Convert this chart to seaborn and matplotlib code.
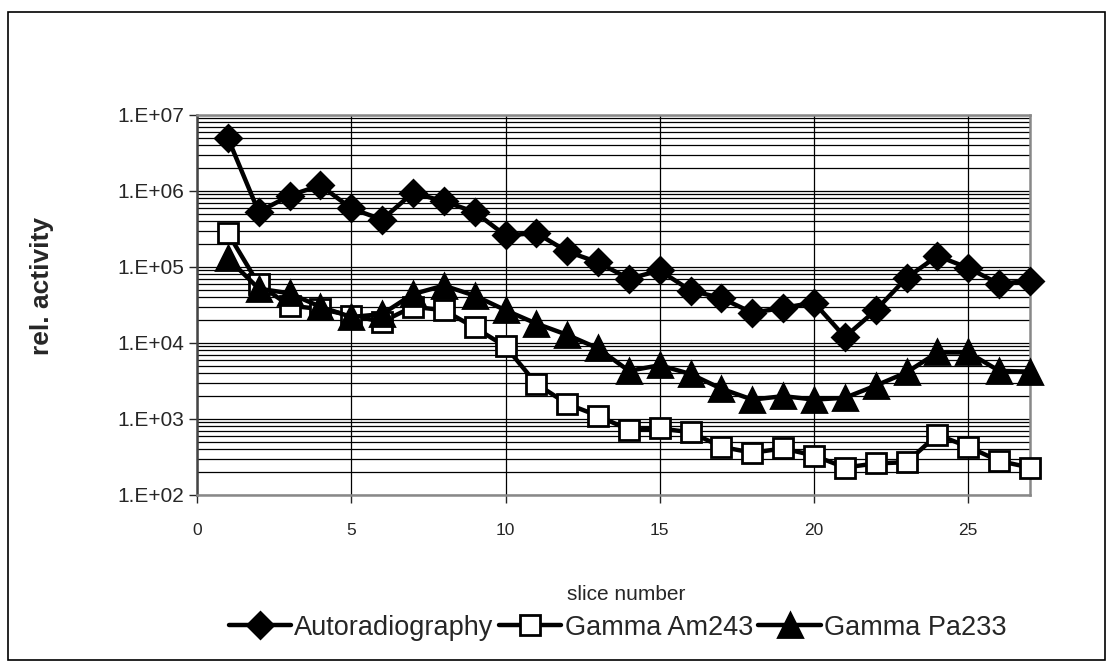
import numpy as np
import pandas as pd
import matplotlib
matplotlib.use("Agg")
import matplotlib.pyplot as plt
from matplotlib.ticker import FixedLocator, FuncFormatter, NullFormatter
import seaborn as sns

slices = list(range(1, 28))
autoradiography = [5.0e6, 5.3e5, 8.7e5, 1.19e6, 5.9e5, 4.2e5, 9.5e5, 7.3e5, 5.3e5,
                   2.6e5, 2.8e5, 1.6e5, 1.15e5, 7.0e4, 9.0e4, 4.9e4, 3.9e4, 2.5e4,
                   2.9e4, 3.4e4, 1.2e4, 2.7e4, 7.2e4, 1.4e5, 9.7e4, 6.0e4, 6.6e4]
gamma_am243 = [2.8e5, 5.9e4, 3.1e4, 2.8e4, 2.3e4, 1.9e4, 3.0e4, 2.7e4, 1.6e4,
               9.0e3, 2.9e3, 1.58e3, 1.1e3, 7.2e2, 7.5e2, 6.7e2, 4.3e2, 3.6e2,
               4.1e2, 3.3e2, 2.3e2, 2.6e2, 2.7e2, 6.2e2, 4.3e2, 2.8e2, 2.3e2]
gamma_pa233 = [1.3e5, 5.2e4, 4.5e4, 3.0e4, 2.2e4, 2.4e4, 4.4e4, 5.7e4, 4.2e4,
               2.7e4, 1.8e4, 1.28e4, 8.5e3, 4.3e3, 5.1e3, 3.9e3, 2.5e3, 1.8e3,
               2.0e3, 1.8e3, 1.9e3, 2.75e3, 4.1e3, 7.5e3, 7.5e3, 4.3e3, 4.2e3]
series_names = ["Autoradiography", "Gamma Am243", "Gamma Pa233"]
x_ticks = [0, 5, 10, 15, 20, 25]
y_ticks = [1e2, 1e3, 1e4, 1e5, 1e6, 1e7]

sns.set_style("white")
plt.rcParams["font.family"] = ["Liberation Sans", "DejaVu Sans"]

fig = plt.figure(figsize=(11.13, 6.7), dpi=100)
ax = fig.add_axes([197/1113, 1-495/670, (1030-197)/1113, (495-115)/670])

# outer frame
fig.patches.append(plt.Rectangle((8/1113, 10/670), (1105-8)/1113, (658-10)/670,
                                 transform=fig.transFigure, fill=False,
                                 edgecolor="black", linewidth=1.2))

styles = [dict(marker="D", mfc="black", ms=13.5),
          dict(marker="s", mfc="white", ms=14),
          dict(marker="^", mfc="black", ms=17.5)]
for name, vals, st in zip(series_names, [autoradiography, gamma_am243, gamma_pa233], styles):
    sns.lineplot(x=slices, y=vals, ax=ax, color="black", linewidth=3.2,
                 marker=st["marker"], markersize=st["ms"],
                 markerfacecolor=st["mfc"], markeredgecolor="black",
                 markeredgewidth=2, label=name, clip_on=False, zorder=3)

ax.set_yscale("log")
ax.set_ylim(1e2, 1e7)
ax.set_xlim(0, 27)

ax.yaxis.set_major_locator(FixedLocator(y_ticks))
ax.yaxis.set_major_formatter(FuncFormatter(lambda v, p: f"1.E+{int(round(np.log10(v))):02d}"))
minors = [m * 10**e for e in range(2, 7) for m in range(2, 10)]
ax.yaxis.set_minor_locator(FixedLocator(minors))
ax.yaxis.set_minor_formatter(NullFormatter())
ax.xaxis.set_major_locator(FixedLocator(x_ticks))

ax.grid(True, which="major", axis="both", color="black", linewidth=0.9)
ax.grid(True, which="minor", axis="y", color="black", linewidth=0.9)
ax.tick_params(axis="y", which="major", direction="out", length=6, width=1,
               labelsize=15, pad=3, left=True)
ax.tick_params(axis="y", which="minor", length=0)
ax.tick_params(axis="x", which="major", direction="out", length=6, width=1,
               labelsize=12.5, pad=14, bottom=True)

for side in ["top", "right", "bottom"]:
    ax.spines[side].set_color("#888888")
    ax.spines[side].set_linewidth(1.8)
ax.spines["left"].set_color("#444444")
ax.spines["left"].set_linewidth(1.8)

ax.set_xlabel("slice number", fontsize=15)
ax.xaxis.set_label_coords(0.515, -0.238)
ax.set_ylabel("rel. activity", fontsize=19, fontweight="bold")
ax.yaxis.set_label_coords(-0.172, 0.55)

leg = ax.legend(loc="center", bbox_to_anchor=(0.505, -0.349), ncol=3,
                frameon=False, fontsize=19.5, handlelength=2.3, handletextpad=0.12,
                columnspacing=0.2, borderaxespad=0)

fig.savefig("out.png", dpi=100)
